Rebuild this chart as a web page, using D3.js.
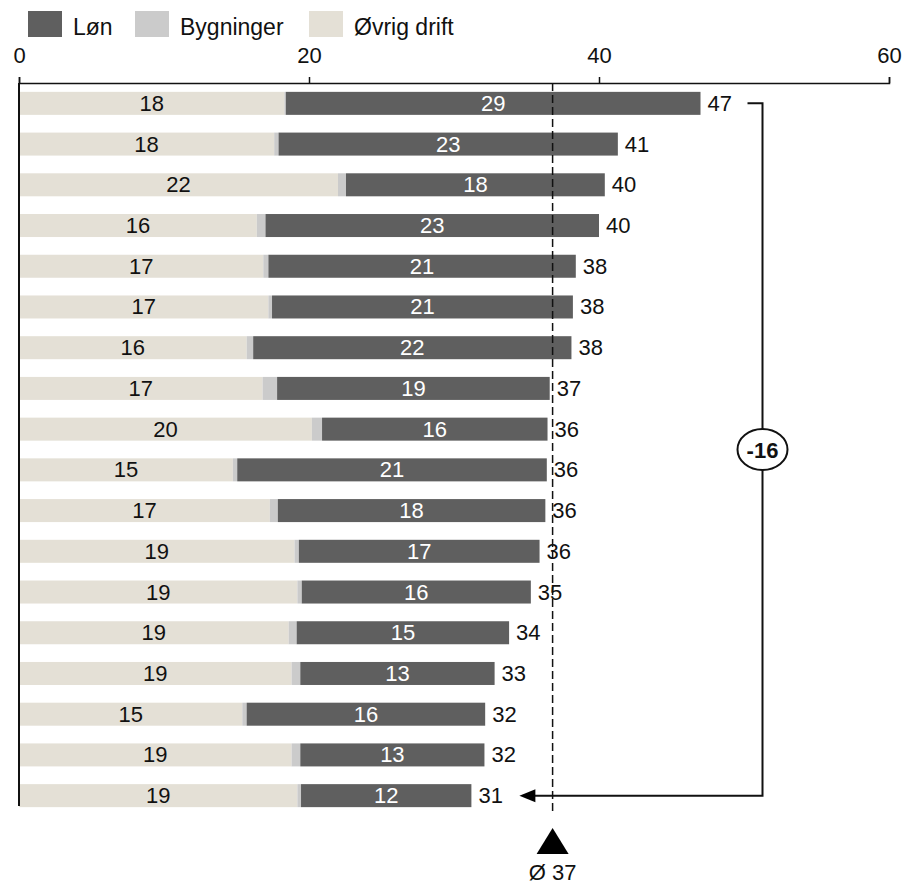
<!DOCTYPE html>
<html><head><meta charset="utf-8">
<script src="https://cdn.jsdelivr.net/npm/d3@7"></script>
<style>body{margin:0;background:#fff}svg{display:block;font-family:"Liberation Sans",Arial,sans-serif}</style>
</head><body>
<svg id="c" width="905" height="890"></svg>
<script>
const categories = ["A","B","C","D","E","F","G","H","I","J","K","L","M","N","O","P","Q","R"];
const ovrig = [18.3,17.6,22.0,16.4,16.85,17.2,15.7,16.8,20.2,14.75,17.3,19.0,19.2,18.6,18.8,15.4,18.8,19.2];
const bygninger = [0.1,0.3,0.55,0.6,0.35,0.25,0.45,1.0,0.7,0.3,0.55,0.3,0.3,0.55,0.6,0.3,0.6,0.25];
const lon = [28.6,23.4,17.85,23.0,21.2,20.75,21.95,18.8,15.55,21.35,18.45,16.6,15.8,14.65,13.4,16.45,12.7,11.75];
const seriesNames = ["Løn","Bygninger","Øvrig drift"];
const colors = {"Løn":"#5f5f5f","Bygninger":"#cbcbcb","Øvrig drift":"#e4e0d6"};
const tickValues = [0,20,40,60];
const meanValue = 36.8;
const meanLabel = "Ø 37";
const sourceText = "Kilde: Analyse af regnskabsdata";

const svg = d3.select("#c");
const FS = 22;
const x = d3.scaleLinear().domain([0,60]).range([19,889]);
const y = d3.scaleBand().domain(categories).range([83,816]).paddingInner(0.435).paddingOuter(0.2175);

const rows = categories.map((c,i)=>({c, ovrig:ovrig[i], byg:bygninger[i], lon:lon[i], total:ovrig[i]+bygninger[i]+lon[i]}));
const fmt = v => String(Math.round(v));

// legend
const leg = svg.append("g");
const legX = [28,135,309];
seriesNames.forEach((s,i)=>{
  leg.append("rect").attr("x",legX[i]).attr("y",11).attr("width",34).attr("height",26).attr("fill",colors[s]);
  leg.append("text").attr("x",legX[i]+45).attr("y",35).attr("font-size",23).attr("fill","#111").text(s);
});

// axis
const axis = d3.axisTop(x).tickValues(tickValues).tickSize(6).tickSizeOuter(6).tickFormat(d3.format("d"));
const ag = svg.append("g").attr("transform","translate(0,83)").call(axis);
ag.select(".domain").attr("stroke","#111").attr("stroke-width",1.5);
ag.selectAll(".tick line").attr("stroke","#111").attr("stroke-width",1.5);
ag.selectAll(".tick text").attr("font-size",FS).attr("fill","#111").attr("y",-20).attr("dy",0).attr("font-family","Liberation Sans, Arial, sans-serif");

// bars
const g = svg.append("g");
rows.forEach(r=>{
  const y0 = y(r.c), h = y.bandwidth();
  g.append("rect").attr("x",x(0)).attr("y",y0).attr("width",x(r.ovrig)-x(0)).attr("height",h).attr("fill",colors["Øvrig drift"]);
  g.append("rect").attr("x",x(r.ovrig)).attr("y",y0).attr("width",x(r.ovrig+r.byg)-x(r.ovrig)).attr("height",h).attr("fill",colors["Bygninger"]);
  g.append("rect").attr("x",x(r.ovrig+r.byg)).attr("y",y0).attr("width",x(r.total)-x(r.ovrig+r.byg)).attr("height",h).attr("fill",colors["Løn"]);
  const cy = y0 + h/2 + 7.5;
  g.append("text").attr("x",(x(0)+x(r.ovrig))/2).attr("y",cy).attr("text-anchor","middle").attr("font-size",FS).attr("fill","#111").text(fmt(r.ovrig));
  g.append("text").attr("x",(x(r.ovrig+r.byg)+x(r.total))/2).attr("y",cy).attr("text-anchor","middle").attr("font-size",FS).attr("fill","#fff").text(fmt(r.lon));
  g.append("text").attr("x",x(r.total)+7).attr("y",cy).attr("font-size",FS).attr("fill","#111").text(fmt(r.total));
});

// left axis line
svg.append("line").attr("x1",x(0)).attr("x2",x(0)).attr("y1",83).attr("y2",806).attr("stroke","#111").attr("stroke-width",2);

// mean line
const mx = x(meanValue);
svg.append("line").attr("x1",mx).attr("x2",mx).attr("y1",83).attr("y2",812).attr("stroke","#111").attr("stroke-width",1.5).attr("stroke-dasharray","8,4");
svg.append("path").attr("d",`M${mx},828 L${mx+16},854 L${mx-16},854 Z`).attr("fill","#000");
svg.append("text").attr("x",mx).attr("y",880).attr("text-anchor","middle").attr("font-size",FS).attr("fill","#111").text(meanLabel);

// bracket
const first = rows[0], last = rows[rows.length-1];
const yTop = y(first.c)+y.bandwidth()/2, yBot = y(last.c)+y.bandwidth()/2;
const bx = x(d3.max(rows,r=>r.total))+62;
svg.append("path").attr("d",`M${x(first.total)+47},${yTop} H${bx} V${yBot} H${x(last.total)+62}`).attr("fill","none").attr("stroke","#111").attr("stroke-width",2);
const tip = x(last.total)+48;
svg.append("path").attr("d",`M${tip},${yBot} L${tip+16},${yBot-6.5} L${tip+16},${yBot+6.5} Z`).attr("fill","#000");
const ey = (yTop+yBot)/2;
svg.append("ellipse").attr("cx",bx).attr("cy",ey).attr("rx",25).attr("ry",20.5).attr("fill","#fff").attr("stroke","#111").attr("stroke-width",2);
const diff = Math.round(last.total) - Math.round(first.total);
svg.append("text").attr("x",bx).attr("y",ey+8).attr("text-anchor","middle").attr("font-size",FS).attr("font-weight","bold").attr("fill","#111").text(String(diff));

// source (cut off at bottom)
svg.append("text").attr("x",2).attr("y",901).attr("font-size",15).attr("fill","#888").text(sourceText);
</script>
</body></html>
